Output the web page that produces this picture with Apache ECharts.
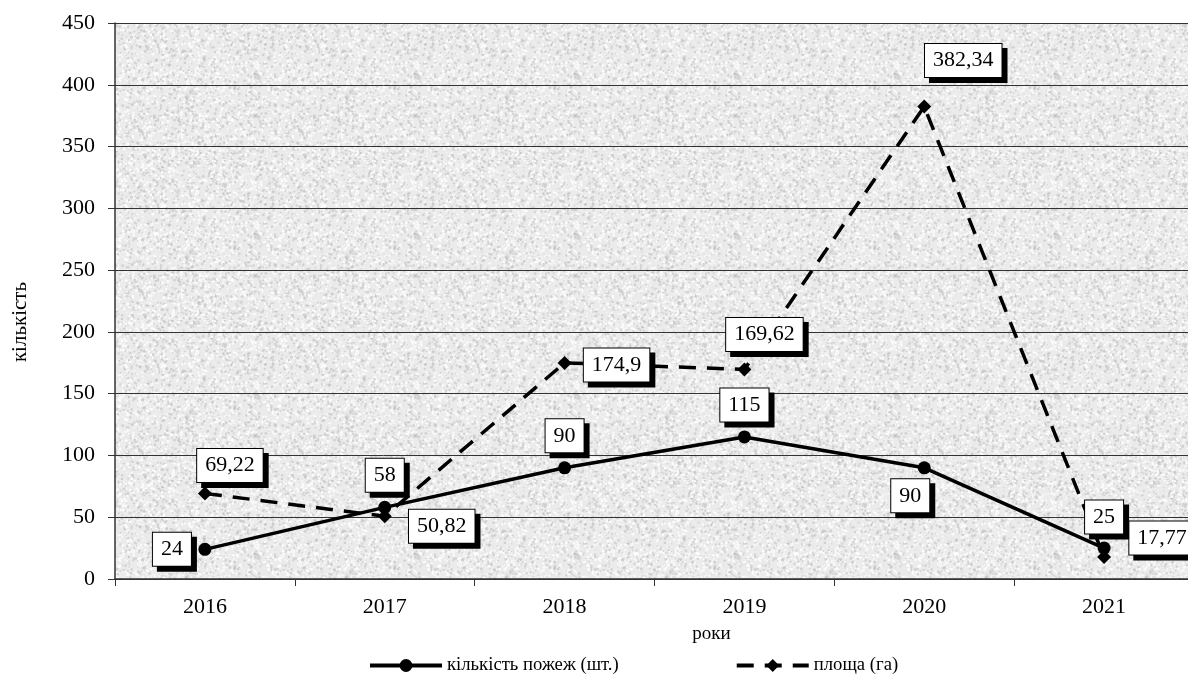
<!DOCTYPE html>
<html>
<head>
<meta charset="utf-8">
<script src="https://cdn.jsdelivr.net/npm/echarts@6/dist/echarts.min.js"></script>
<style>html,body{margin:0;padding:0;background:#fff;overflow:hidden}#c{width:1188px;height:675px}</style>
</head>
<body>
<div id="c"></div>
<script>
const years = ['2016','2017','2018','2019','2020','2021'];
const fires = [24, 58, 90, 115, 90, 25];
const area = [69.22, 50.82, 174.9, 169.62, 382.34, 17.77];
const yTicks = [0, 50, 100, 150, 200, 250, 300, 350, 400, 450];

// label offsets (pixel placement of the boxes relative to points)
const fireOffsets = [[-33,0],[0,-32],[0,-32],[0,-32],[-14,28],[0,-31]];
const areaOffsets = [[25,-28],[57,10],[52,2],[20,-35],[39,-46],[58,-19]];

// decorative texture for plot background (deterministic)
function makeTexture(){
  const cv = document.createElement('canvas');
  cv.width = 160; cv.height = 160;
  const ctx = cv.getContext('2d');
  ctx.fillStyle = '#ebebeb';
  ctx.fillRect(0,0,160,160);
  let s = 12345;
  function h(){ s = (s * 1103515245 + 12345) & 0x7fffffff; return s / 0x7fffffff; }
  for (let i=0;i<3600;i++){
    const x = h()*160, y = h()*160, r = 0.5 + h()*1.0;
    const v = h();
    ctx.fillStyle = v < 0.5 ? 'rgba(255,255,255,0.8)' : 'rgba(190,190,190,0.55)';
    ctx.beginPath(); ctx.arc(x,y,r,0,Math.PI*2); ctx.fill();
  }
  return cv;
}

const font = 'Liberation Serif, Times New Roman, serif';
const labelBox = {
  show: true,
  position: 'inside',
  color: '#000',
  fontFamily: font,
  fontSize: 22,
  backgroundColor: '#fff',
  borderColor: '#000',
  borderWidth: 1,
  padding: [6, 8, 5, 8],
  shadowColor: '#000',
  shadowOffsetX: 5,
  shadowOffsetY: 5,
  shadowBlur: 0
};

function withLabels(vals, offs, fmt){
  return vals.map((v,i)=>({
    value: v,
    label: Object.assign({}, labelBox, {offset: offs[i], formatter: fmt(v)})
  }));
}

const chart = echarts.init(document.getElementById('c'));
chart.setOption({
  animation: false,
  backgroundColor: '#fff',
  grid: {
    left: 115, top: 23, width: 1079, height: 556,
    outerBoundsMode: 'none',
    containLabel: false,
    show: true,
    backgroundColor: {image: makeTexture(), repeat: 'repeat'},
    borderWidth: 0
  },
  xAxis: {
    type: 'category',
    data: years,
    boundaryGap: true,
    name: 'роки',
    nameLocation: 'middle',
    nameGap: 46,
    nameTextStyle: {fontFamily: font, fontSize: 19, color: '#000', padding: [0,0,0,114]},
    axisLine: {lineStyle: {color: '#333', width: 1.5}},
    axisTick: {show: true, length: 7, lineStyle: {color: '#333'}},
    axisLabel: {fontFamily: font, fontSize: 22, color: '#000', margin: 17}
  },
  yAxis: {
    type: 'value',
    min: 0, max: 450, interval: 50,
    name: 'кількість',
    nameLocation: 'middle',
    nameGap: 84,
    nameTextStyle: {fontFamily: font, fontSize: 21, color: '#000', padding: [0,42,0,0]},
    axisLine: {show: true, lineStyle: {color: '#333', width: 1.5}},
    axisTick: {show: true, length: 7, lineStyle: {color: '#333'}},
    axisLabel: {fontFamily: font, fontSize: 22, color: '#000', margin: 20,
      formatter: v => yTicks.includes(v) ? String(v) : ''},
    splitLine: {show: true, lineStyle: {color: '#333', width: 1}}
  },
  legend: {
    left: 363, top: 651,
    itemGap: 116,
    itemWidth: 72, itemHeight: 16,
    textStyle: {fontFamily: font, fontSize: 18.7, color: '#000'},
    data: [
      {name: 'кількість пожеж (шт.)', lineStyle: {width: 4}},
      {name: 'площа (га)', lineStyle: {width: 4}}
    ]
  },
  series: [
    {
      name: 'кількість пожеж (шт.)',
      type: 'line',
      data: withLabels(fires, fireOffsets, v => String(v)),
      symbol: 'circle', symbolSize: 13,
      lineStyle: {color: '#000', width: 3.5},
      itemStyle: {color: '#000'},
      z: 3
    },
    {
      name: 'площа (га)',
      type: 'line',
      data: withLabels(area, areaOffsets, v => String(v).replace('.', ',')),
      symbol: 'diamond', symbolSize: 14,
      lineStyle: {color: '#000', width: 3.5, type: [17, 11]},
      itemStyle: {color: '#000'},
      z: 2
    }
  ]
});
</script>
</body>
</html>
